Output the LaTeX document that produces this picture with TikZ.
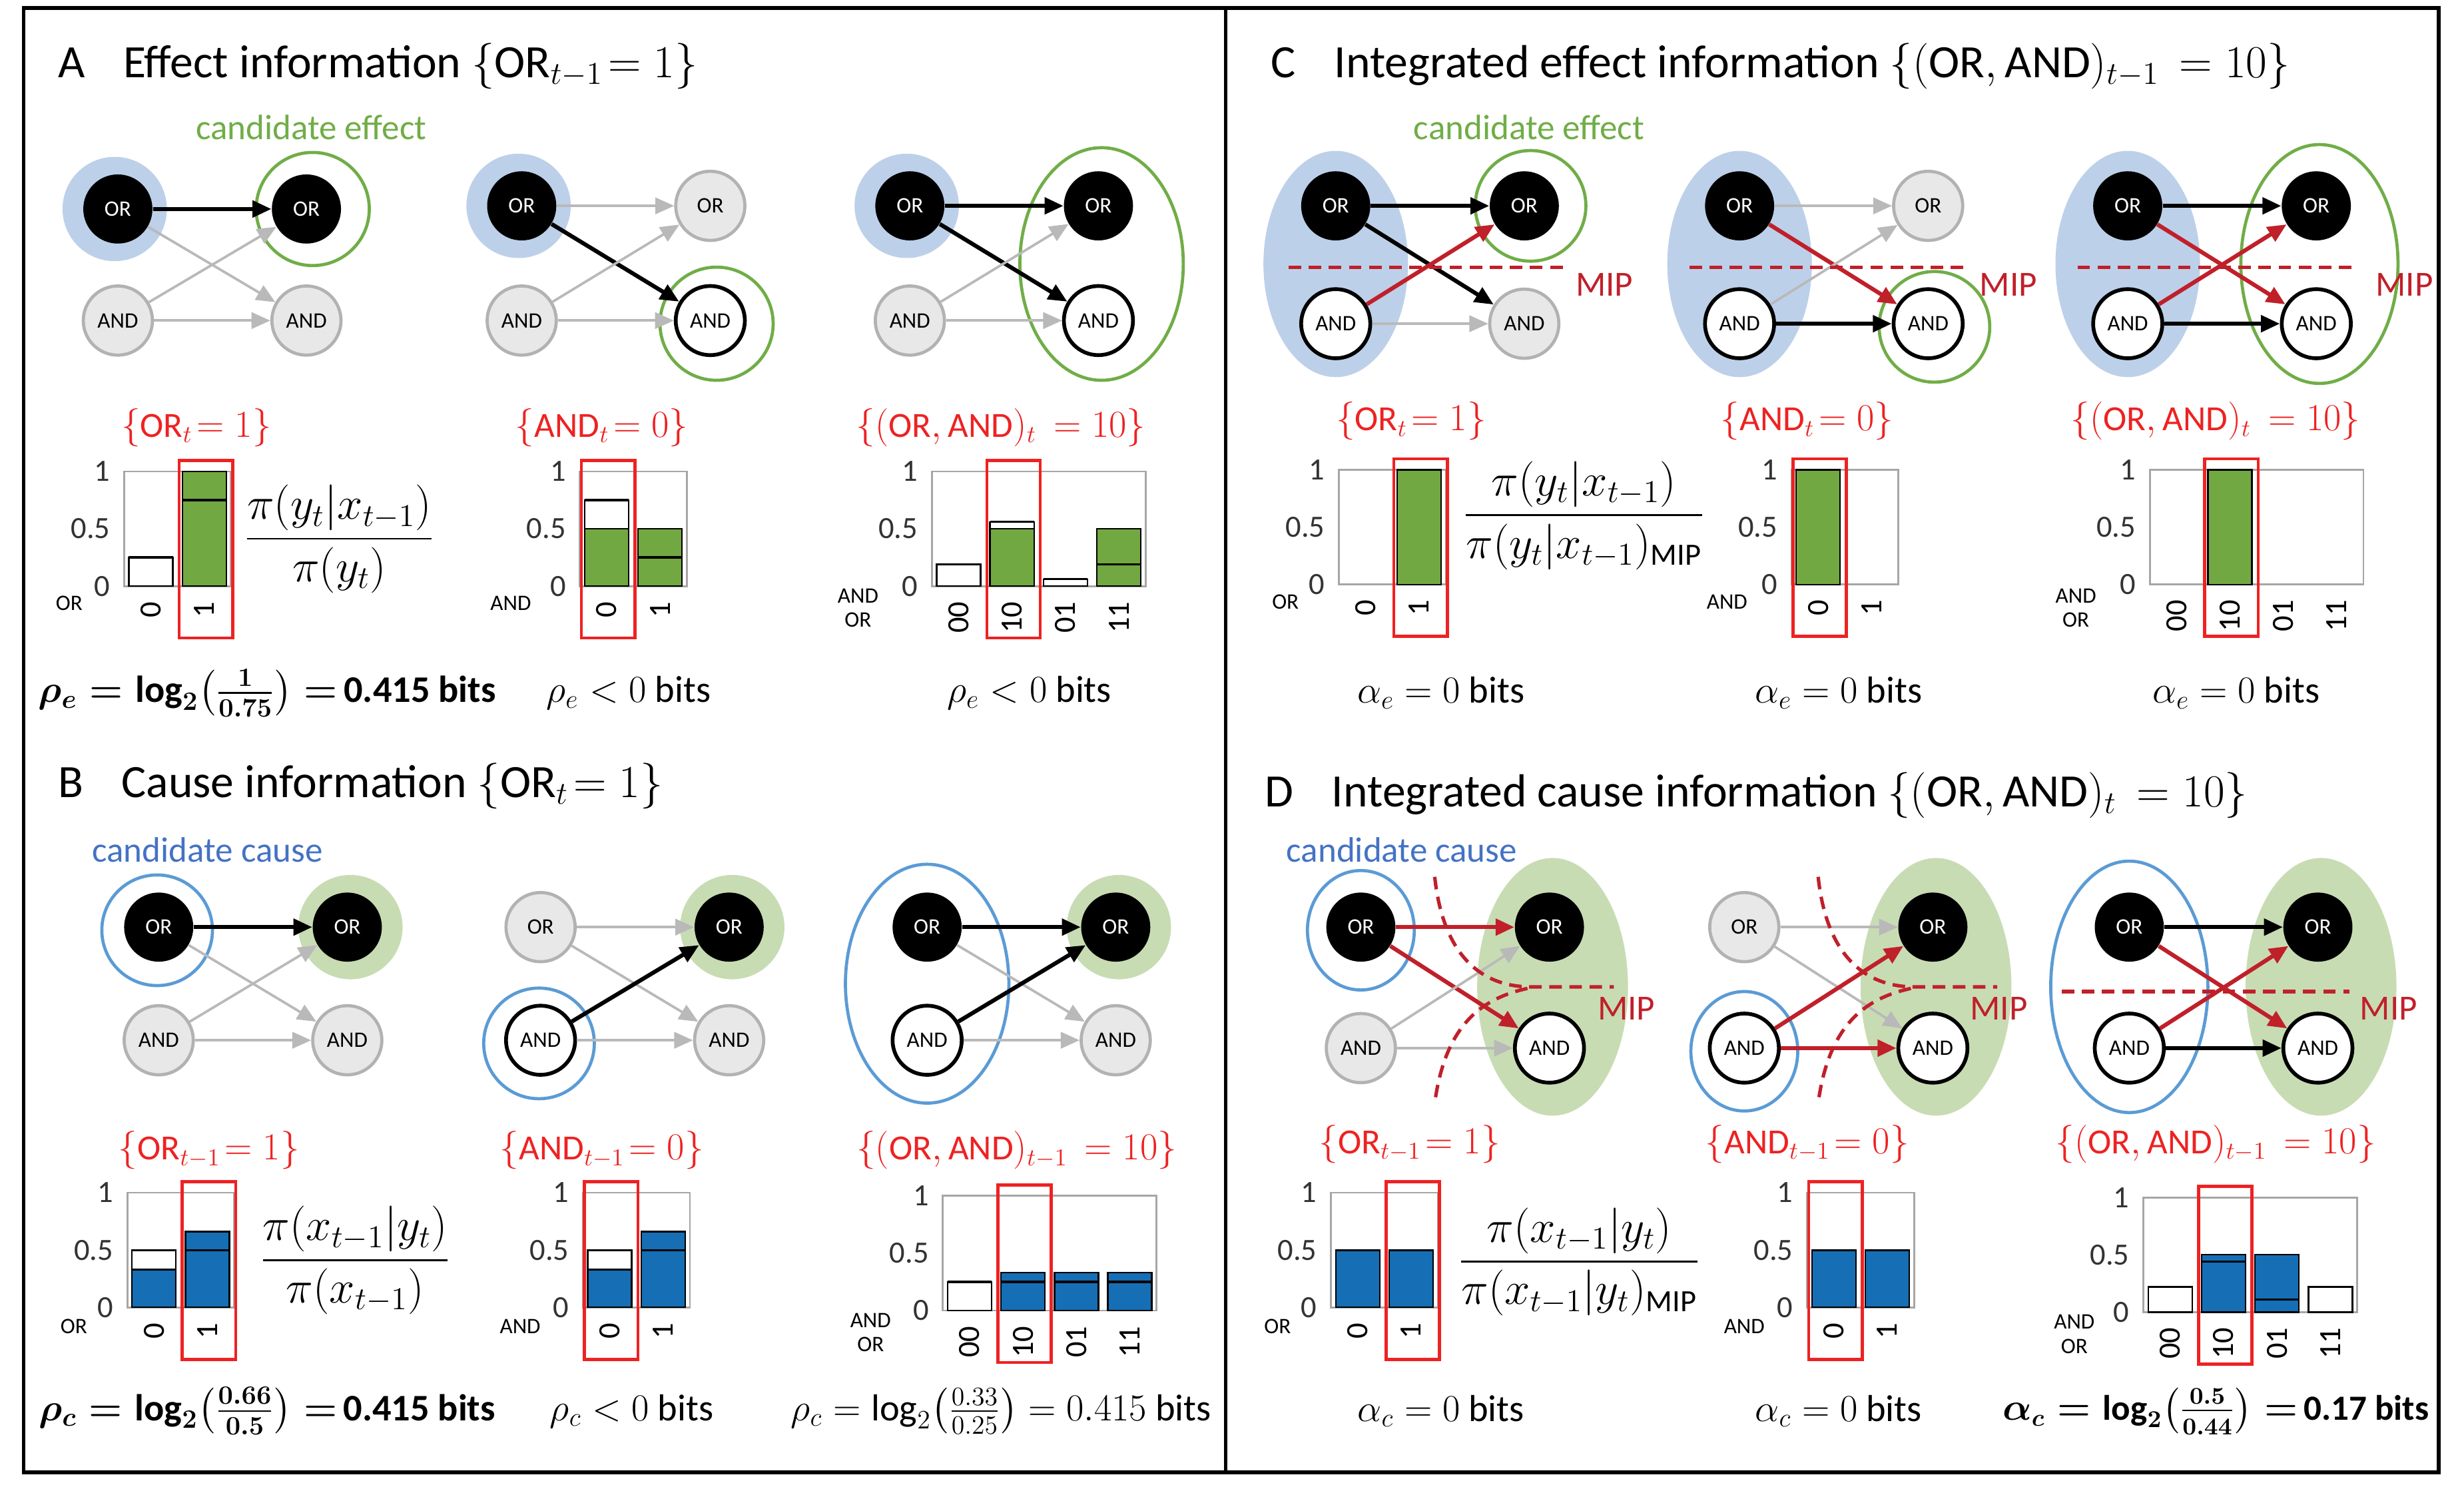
\documentclass[tikz,border=0pt]{standalone}
\usepackage{fontspec}
\setmainfont{Carlito}
\usepackage{amsmath}
\usetikzlibrary{arrows.meta}
\definecolor{hblue}{RGB}{189,208,233}
\definecolor{rblue}{RGB}{91,155,213}
\definecolor{hgreen}{RGB}{200,220,180}
\definecolor{rgreen}{RGB}{112,173,71}
\definecolor{bgreen}{RGB}{114,168,66}
\definecolor{bblue}{RGB}{22,110,180}
\definecolor{rbox}{RGB}{238,34,34}
\definecolor{mipred}{RGB}{192,32,42}
\definecolor{cause}{RGB}{68,114,196}
\newcommand\resAa{{\boldmath$\rho_e=\log_2\!\left(\frac{1}{0.75}\right)=$}\,\textbf{0.415 bits}}
\newcommand\resBa{{\boldmath$\rho_c=\log_2\!\left(\frac{0.66}{0.5}\right)=$}\,\textbf{0.415 bits}}
\newcommand\resBc{$\rho_c=\log_2\!\left(\frac{0.33}{0.25}\right)=0.415$ bits}
\newcommand\resDc{{\boldmath$\alpha_c=\log_2\!\left(\frac{0.5}{0.44}\right)=$}\,\textbf{0.17 bits}}
\tikzset{
 nd/.style={circle,minimum size=11mm,inner sep=0pt,font=\fontsize{10}{12}\selectfont},
 blk/.style={nd,fill=black,text=white},
 gry/.style={nd,fill=gray!18,draw=gray!60,line width=0.5mm},
 wht/.style={nd,fill=white,draw=black,line width=0.6mm},
 eb/.style={-{Triangle[length=3mm,width=2.6mm]},line width=0.65mm,black},
 eg/.style={-{Triangle[length=3mm,width=2.6mm]},line width=0.4mm,gray!55},
 er/.style={-{Triangle[length=3mm,width=2.6mm]},line width=0.65mm,mipred},
 ttl/.style={anchor=west,font=\fontsize{21}{25}\selectfont},
 cand/.style={font=\fontsize{16}{19}\selectfont},
 redlab/.style={text=rbox,font=\fontsize{16}{19}\selectfont},
 ticklab/.style={font=\fontsize{14}{16}\selectfont},
 axlab/.style={font=\fontsize{14}{16}\selectfont,text=black!80,anchor=east},
 varlab/.style={font=\fontsize{10}{12}\selectfont,align=center},
 resl/.style={font=\fontsize{17}{20}\selectfont},
 fracl/.style={font=\fontsize{20}{24}\selectfont},
 mip/.style={mipred,line width=0.55mm,dash pattern=on 2mm off 1.2mm},
 miplab/.style={text=mipred,font=\fontsize{16}{19}\selectfont},
 redbox/.style={draw=rbox,line width=0.5mm},
}
\newcommand\fourn[8]{%
 \node[#5] (#1lo) at (#2,#3) {OR};
 \node[#6] (#1la) at (#2,#4) {AND};
 \node[#7] (#1ro) at ({#2+120},#3) {OR};
 \node[#8] (#1ra) at ({#2+120},#4) {AND};}
\newcommand\edg[5]{%
 \draw[#2] (#1lo) -- (#1ro);
 \draw[#3] (#1lo) -- (#1ra);
 \draw[#4] (#1la) -- (#1ro);
 \draw[#5] (#1la) -- (#1ra);}
\newcommand\chart[6]{%
 \draw[gray!70,line width=0.3mm] (#1,#2) rectangle ({#1+34*#5},{#2-73});
 \foreach \u/\f/\l [count=\k from 0] in {#3}{%
   \pgfmathsetmacro\xa{#1+3+34*\k}\pgfmathsetmacro\xb{\xa+28}%
   \ifdim\u pt>0pt \draw[black,fill=white,line width=0.25mm] (\xa,#2) rectangle (\xb,{#2-73*\u});\fi
   \ifdim\f pt>0pt \draw[black,fill=#4,line width=0.25mm] (\xa,#2) rectangle (\xb,{#2-73*\f});\fi
   \ifdim\u pt>0pt \draw[black,line width=0.35mm] (\xa,{#2-73*\u}) -- (\xb,{#2-73*\u});\fi
   \node[ticklab,rotate=90,anchor=east] at ({\xa+14},{#2+5}) {\l};
 }
 \draw[redbox] ({#1+34*#6+1},{#2-80}) rectangle ({#1+34*#6+35},{#2+33});
 \node[axlab] at ({#1-4},{#2-73}) {1};
 \node[axlab] at ({#1-4},{#2-36.5}) {0.5};
 \node[axlab] at ({#1-4},{#2}) {0};
}
\begin{document}
\begin{tikzpicture}[x=0.25mm,y=-0.25mm]
\useasboundingbox (0,0) rectangle (1568,946);
\draw[line width=0.6mm] (15,5) rectangle (1552,937);
\draw[line width=0.6mm] (780,5) -- (780,937);

\node[ttl] (tA) at (32,42) {A\hspace{0.6em} Effect information $\{\mathrm{OR}_{t-1}\!= 1\}$};
\node[ttl] (tB) at (32,500) {B\hspace{0.6em} Cause information $\{\mathrm{OR}_{t}\!= 1\}$};
\node[ttl] (tC) at (804,42) {C\hspace{0.6em} Integrated effect information $\{(\mathrm{OR},\mathrm{AND})_{t-1}\,=10\}$};
\node[ttl] (tD) at (800,506) {D\hspace{0.6em} Integrated cause information $\{(\mathrm{OR},\mathrm{AND})_{t}\,=10\}$};
\node[cand,text=rgreen] (ceA) at (198,81) {candidate effect};
\node[cand,text=rgreen] (ceC) at (973,81) {candidate effect};
\node[cand,text=cause] (ccB) at (132,541) {candidate cause};
\node[cand,text=cause] (ccD) at (892,541) {candidate cause};

% ---------- A ----------
\fill[hblue] (73,133) circle[radius=8.3mm];
\draw[rgreen,line width=0.5mm] (199,133) circle[radius=9mm];
\fourn{a1}{75}{133}{204}{blk}{gry}{blk}{gry}
\edg{a1}{eb}{eg}{eg}{eg}
\fill[hblue] (330,131) circle[radius=8.3mm];
\draw[rgreen,line width=0.5mm] (456,206) circle[radius=9mm];
\fourn{a2}{332}{131}{204}{blk}{gry}{gry}{wht}
\edg{a2}{eg}{eb}{eg}{eg}
\fill[hblue] (577,131) circle[radius=8.3mm];
\draw[rgreen,line width=0.5mm] (701,168) ellipse[x radius=13mm,y radius=18.5mm];
\fourn{a3}{579}{131}{204}{blk}{gry}{blk}{wht}
\edg{a3}{eb}{eb}{eg}{eg}

\node[redlab] (la1) at (125,272) {$\{\mathrm{OR}_t\!= 1\}$};
\node[redlab] (la2) at (383,272) {$\{\mathrm{AND}_t\!= 0\}$};
\node[redlab] (la3) at (637,272) {$\{(\mathrm{OR},\mathrm{AND})_t\,=10\}$};
\chart{79}{373}{0.25/0/0,0.75/1/1}{bgreen}{2}{1}
\chart{369}{373}{0.75/0.5/0,0.25/0.5/1}{bgreen}{2}{0}
\chart{593}{373}{0.19/0/00,0.56/0.5/10,0.06/0/01,0.19/0.5/11}{bgreen}{4}{1}
\node[varlab] (va1) at (44,384) {OR};
\node[varlab] (va2) at (325,384) {AND};
\node[varlab] (va3) at (546,387) {AND\\[-1pt]OR};
\node[fracl] (fa) at (216,343) {$\dfrac{\pi(y_t|x_{t-1})}{\pi(y_t)}$};
\node[resl] (ra1) at (170,441) {\resAa};
\node[resl] (ra2) at (400,441) {$\rho_e<0$ bits};
\node[resl] (ra3) at (655,441) {$\rho_e<0$ bits};

% ---------- B ----------
\fill[hgreen] (223,590) circle[radius=8.3mm];
\draw[rblue,line width=0.5mm] (100,592) circle[radius=8.8mm];
\fourn{b1}{101}{590}{662}{blk}{gry}{blk}{gry}
\edg{b1}{eb}{eg}{eg}{eg}
\fill[hgreen] (466,590) circle[radius=8.3mm];
\draw[rblue,line width=0.5mm] (343,664) circle[radius=8.8mm];
\fourn{b2}{344}{590}{662}{gry}{wht}{blk}{gry}
\edg{b2}{eg}{eg}{eb}{eg}
\fill[hgreen] (712,590) circle[radius=8.3mm];
\draw[rblue,line width=0.5mm] (590,626) ellipse[x radius=13mm,y radius=19mm];
\fourn{b3}{590}{590}{662}{blk}{wht}{blk}{gry}
\edg{b3}{eb}{eg}{eb}{eg}

\node[redlab] (lb1) at (133,732) {$\{\mathrm{OR}_{t-1}\!= 1\}$};
\node[redlab] (lb2) at (383,732) {$\{\mathrm{AND}_{t-1}\!= 0\}$};
\node[redlab] (lb3) at (647,732) {$\{(\mathrm{OR},\mathrm{AND})_{t-1}\,=10\}$};
\chart{81}{832}{0.5/0.33/0,0.5/0.66/1}{bblue}{2}{1}
\chart{371}{832}{0.5/0.33/0,0.5/0.66/1}{bblue}{2}{0}
\chart{600}{834}{0.25/0/00,0.25/0.33/10,0.25/0.33/01,0.25/0.33/11}{bblue}{4}{1}
\node[varlab] (vb1) at (47,844) {OR};
\node[varlab] (vb2) at (331,844) {AND};
\node[varlab] (vb3) at (554,848) {AND\\[-1pt]OR};
\node[fracl] (fb) at (226,802) {$\dfrac{\pi(x_{t-1}|y_t)}{\pi(x_{t-1})}$};
\node[resl] (rb1) at (170,898) {\resBa};
\node[resl] (rb2) at (402,898) {$\rho_c<0$ bits};
\node[resl] (rb3) at (637,898) {\resBc};

% ---------- C ----------
\fill[hblue] (850,168) ellipse[x radius=11.5mm,y radius=18mm];
\draw[rgreen,line width=0.5mm] (974,131) circle[radius=8.8mm];
\fourn{c1}{850}{131}{206}{blk}{wht}{blk}{gry}
\edg{c1}{eb}{eb}{er}{eg}
\draw[mip] (820,170) -- (995,170);
\node[miplab] (mc1) at (1021,181) {MIP};
\fill[hblue] (1107,168) ellipse[x radius=11.5mm,y radius=18mm];
\draw[rgreen,line width=0.5mm] (1231,208) circle[radius=8.8mm];
\fourn{c2}{1107}{131}{206}{blk}{wht}{gry}{wht}
\edg{c2}{eg}{er}{eg}{eb}
\draw[mip] (1075,170) -- (1252,170);
\node[miplab] (mc2) at (1278,181) {MIP};
\fill[hblue] (1354,168) ellipse[x radius=11.5mm,y radius=18mm];
\draw[rgreen,line width=0.5mm] (1476,168) ellipse[x radius=12.5mm,y radius=19mm];
\fourn{c3}{1354}{131}{206}{blk}{wht}{blk}{wht}
\edg{c3}{eb}{er}{er}{eb}
\draw[mip] (1322,170) -- (1500,170);
\node[miplab] (mc3) at (1530,181) {MIP};

\node[redlab] (lc1) at (898,268) {$\{\mathrm{OR}_t\!= 1\}$};
\node[redlab] (lc2) at (1150,268) {$\{\mathrm{AND}_t\!= 0\}$};
\node[redlab] (lc3) at (1410,268) {$\{(\mathrm{OR},\mathrm{AND})_t\,=10\}$};
\chart{852}{372}{0/0/0,1/1/1}{bgreen}{2}{1}
\chart{1140}{372}{1/1/0,0/0/1}{bgreen}{2}{0}
\chart{1368}{372}{0/0/00,1/1/10,0/0/01,0/0/11}{bgreen}{4}{1}
\node[varlab] (vc1) at (818,383) {OR};
\node[varlab] (vc2) at (1099,383) {AND};
\node[varlab] (vc3) at (1321,387) {AND\\[-1pt]OR};
\node[fracl] (fc) at (1008,328) {$\dfrac{\pi(y_t|x_{t-1})}{\pi(y_t|x_{t-1})_{\mathrm{MIP}}}$};
\node[resl] (rc1) at (917,441) {$\alpha_e=0$ bits};
\node[resl] (rc2) at (1170,441) {$\alpha_e=0$ bits};
\node[resl] (rc3) at (1423,441) {$\alpha_e=0$ bits};

% ---------- D ----------
\fill[hgreen] (988,628) ellipse[x radius=12mm,y radius=20.5mm];
\draw[rblue,line width=0.5mm] (866,592) ellipse[x radius=8.5mm,y radius=9.5mm];
\fourn{d1}{866}{590}{667}{blk}{gry}{blk}{wht}
\edg{d1}{er}{er}{eg}{eg}
\draw[mip] (913,558) .. controls (918,605) and (940,627) .. (972,628) -- (1027,628);
\draw[mip] (972,629) .. controls (945,635) and (920,650) .. (913,702);
\node[miplab] (md1) at (1035,642) {MIP};
\fill[hgreen] (1232,628) ellipse[x radius=12mm,y radius=20.5mm];
\draw[rblue,line width=0.5mm] (1110,669) ellipse[x radius=8.5mm,y radius=9.5mm];
\fourn{d2}{1110}{590}{667}{gry}{wht}{blk}{wht}
\edg{d2}{eg}{eg}{er}{er}
\draw[mip] (1157,558) .. controls (1162,605) and (1184,627) .. (1216,628) -- (1271,628);
\draw[mip] (1216,629) .. controls (1189,635) and (1164,650) .. (1157,702);
\node[miplab] (md2) at (1272,642) {MIP};
\fill[hgreen] (1477,628) ellipse[x radius=12mm,y radius=20.5mm];
\draw[rblue,line width=0.5mm] (1355,628) ellipse[x radius=12.5mm,y radius=20mm];
\fourn{d3}{1355}{590}{667}{blk}{wht}{blk}{wht}
\edg{d3}{eb}{er}{er}{eb}
\draw[mip] (1312,631) -- (1495,631);
\node[miplab] (md3) at (1520,642) {MIP};

\node[redlab] (ld1) at (897,728) {$\{\mathrm{OR}_{t-1}\!= 1\}$};
\node[redlab] (ld2) at (1150,728) {$\{\mathrm{AND}_{t-1}\!= 0\}$};
\node[redlab] (ld3) at (1410,728) {$\{(\mathrm{OR},\mathrm{AND})_{t-1}\,=10\}$};
\chart{847}{832}{0.5/0.5/0,0.5/0.5/1}{bblue}{2}{1}
\chart{1150}{832}{0.5/0.5/0,0.5/0.5/1}{bblue}{2}{0}
\chart{1364}{835}{0.22/0/00,0.44/0.5/10,0.11/0.5/01,0.22/0/11}{bblue}{4}{1}
\node[varlab] (vd1) at (813,844) {OR};
\node[varlab] (vd2) at (1110,844) {AND};
\node[varlab] (vd3) at (1320,849) {AND\\[-1pt]OR};
\node[fracl] (fd) at (1005,803) {$\dfrac{\pi(x_{t-1}|y_t)}{\pi(x_{t-1}|y_t)_{\mathrm{MIP}}}$};
\node[resl] (rd1) at (917,898) {$\alpha_c=0$ bits};
\node[resl] (rd2) at (1170,898) {$\alpha_c=0$ bits};
\node[resl,font=\fontsize{16}{19}\selectfont] (rd3) at (1410,898) {\resDc};
\end{tikzpicture}
\end{document}
